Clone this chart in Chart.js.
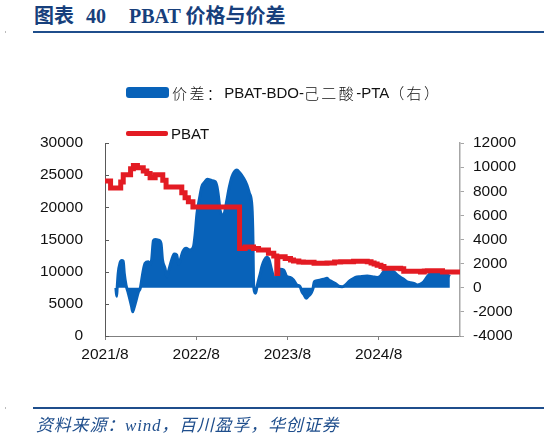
<!DOCTYPE html>
<html>
<head>
<meta charset="utf-8">
<script src="https://cdn.jsdelivr.net/npm/chart.js@4.4.1/dist/chart.umd.min.js"></script>
<style>
  html, body { margin: 0; padding: 0; background: #fff; }
  #wrap { position: relative; width: 547px; height: 439px; overflow: hidden; }
  #chart { position: absolute; left: 0; top: 0; }
  .title { position: absolute; top: 4px; font: bold 20px "Liberation Serif", "Noto Sans CJK SC", serif; color: #173f7c; line-height: 24px; white-space: nowrap; }
  .rule { position: absolute; left: 33px; width: 511px; height: 2px; background: #1f4e8c; }
  .mark { position: absolute; left: 5px; width: 1px; height: 2px; background: #bbb; }
  .source { position: absolute; left: 36px; top: 416px; font: italic 17px "Liberation Serif", "Noto Sans CJK SC", serif; color: #1f4e8c; line-height: 20px; white-space: nowrap; letter-spacing: 0.8px; }
  .legend-item { position: absolute; left: 126px; height: 16px; display: flex; align-items: center; font: 15px "Liberation Sans", "Noto Sans CJK SC", sans-serif; color: #111; white-space: nowrap; }
  .legend-item span.sw { display: inline-block; margin-right: 3px; }
  .legend-item span.cjk { letter-spacing: 2.4px; font-weight: 300; }
</style>
</head>
<body>
<div id="wrap">
  <div class="title" style="left:34px">图表</div>
  <div class="title" style="left:86px">40</div>
  <div class="title" style="left:129px">PBAT 价格与价差</div>
  <div class="rule" style="top:31px"></div>
  <div class="mark" style="top:31px"></div>
  <canvas id="chart" width="547" height="439"></canvas>
  <div id="legend"></div>
  <div class="rule" style="top:407px"></div>
  <div class="mark" style="top:407px"></div>
  <div class="source">资料来源：wind，百川盈孚，华创证券</div>
</div>
<script>
// 价差：PBAT-BDO-己二酸-PTA (right axis)
const spreadDates = [
  '2021-09-14', '2021-09-17', '2021-09-19', '2021-09-23', '2021-09-30', '2021-10-07', '2021-10-13', '2021-10-17',
  '2021-10-24', '2021-11-03', '2021-11-16', '2021-11-20', '2021-11-25', '2021-12-04', '2021-12-13', '2021-12-20',
  '2021-12-31', '2022-01-09', '2022-01-22', '2022-01-29', '2022-02-05', '2022-02-12', '2022-02-19', '2022-03-02',
  '2022-03-12', '2022-03-18', '2022-03-28', '2022-04-05', '2022-04-11', '2022-04-24', '2022-05-04', '2022-05-14',
  '2022-05-21', '2022-05-28', '2022-06-08', '2022-06-21', '2022-07-07', '2022-07-20', '2022-07-27', '2022-08-04',
  '2022-08-14', '2022-08-23', '2022-09-06', '2022-09-15', '2022-10-03', '2022-10-16', '2022-10-23', '2022-10-29',
  '2022-11-05', '2022-11-12', '2022-11-18', '2022-11-25', '2022-12-02', '2022-12-12', '2022-12-22', '2023-01-02',
  '2023-01-11', '2023-01-22', '2023-02-08', '2023-02-21', '2023-03-01', '2023-03-11', '2023-03-15', '2023-03-17',
  '2023-03-21', '2023-03-25', '2023-04-01', '2023-04-07', '2023-04-14', '2023-04-20', '2023-04-30', '2023-05-10',
  '2023-05-19', '2023-05-27', '2023-06-06', '2023-06-13', '2023-06-20', '2023-07-03', '2023-07-16', '2023-07-29',
  '2023-08-12', '2023-08-25', '2023-09-08', '2023-09-21', '2023-09-28', '2023-10-07', '2023-10-15', '2023-10-24',
  '2023-11-04', '2023-11-12', '2023-11-17', '2023-11-28', '2023-12-11', '2023-12-24', '2024-01-07', '2024-01-14',
  '2024-01-27', '2024-02-10', '2024-02-23', '2024-03-07', '2024-03-20', '2024-04-03', '2024-04-16', '2024-04-29',
  '2024-05-19', '2024-06-16', '2024-07-06', '2024-07-25', '2024-08-08', '2024-08-21', '2024-09-05', '2024-09-18',
  '2024-10-01', '2024-10-14', '2024-10-27', '2024-11-10', '2024-11-23', '2024-12-07', '2024-12-20', '2025-01-03',
  '2025-01-16', '2025-01-29', '2025-02-13', '2025-02-26', '2025-03-09', '2025-03-22', '2025-04-05', '2025-04-18',
  '2025-05-02', '2025-05-12'
]
const spreadValues = [
  0, -700, 0, 1200, 2030, 2250, 2200, 1200,
  230, -460, -1570, -1990, -1710, -1020, -325, -50,
  1330, 2020, 2160, 1970, 2300, 3900, 4000, 3950,
  3680, 2300, 1610, 920, 1330, 2300, 2800, 2720,
  1970, 2300, 2990, 3270, 3130, 3400, 4510, 6170,
  7410, 8380, 8800, 8990, 8880, 8800, 8380, 7550,
  6450, 6040, 5960, 6450, 7270, 8380, 9210, 9620,
  9760, 9550, 9070, 8520, 7830, 6720, 3960, 640,
  -325, -460, 90, 640, 1200, 1750, 2300, 2520,
  2300, 1610, 920, 640, 1060, 1530, 1470, 920,
  860, 640, 230, 90, -330, -600, -880, -690,
  -460, -50, 500, 590, 640, 700, 780, 640,
  500, 360, 140, 90, 230, 500, 700, 860,
  920, 970, 920, 860, 970, 1330, 1470, 1420,
  1330, 1060, 860, 700, 500, 420, 360, 230,
  310, 500, 920, 1200, 1260, 1260, 1200, 1140,
  1060, 920
]

// PBAT price (left axis), each value holds from its date until the next one
const pbatDates = [
  '2021-08-01', '2021-08-23', '2021-10-03', '2021-10-13', '2021-11-12', '2021-11-23', '2021-12-09', '2022-01-02',
  '2022-01-16', '2022-01-29', '2022-02-19', '2022-03-19', '2022-04-02', '2022-06-04', '2022-06-17', '2022-06-30',
  '2022-07-18', '2023-01-22', '2023-02-14', '2023-03-17', '2023-04-07', '2023-05-16', '2023-06-07', '2023-06-19',
  '2023-06-23', '2023-07-22', '2023-08-13', '2023-08-25', '2023-09-16', '2023-10-04', '2023-11-16', '2024-01-07',
  '2024-02-07', '2024-03-01', '2024-04-22', '2024-06-16', '2024-07-01', '2024-07-13', '2024-07-25', '2024-08-10',
  '2024-08-22', '2024-10-28', '2024-11-10', '2025-01-16', '2025-02-01', '2025-02-13', '2025-03-22', '2025-04-13',
  '2025-06-22'
]
const pbatValues = [
  24100, 23000, 23950, 25050, 26000, 26500, 26150, 25650,
  25250, 24600, 25050, 24200, 23150, 22250, 21500, 20850,
  20050, 13600, 13850, 13600, 13350, 12850, 12450, 9700,
  12300, 12050, 11800, 11650, 11500, 11450, 11300, 11350,
  11500, 11550, 11600, 11550, 11350, 11200, 11000, 10800,
  10550, 10450, 10050, 9950, 10100, 10150, 10150, 9950,
  9950
]

const xTickMonths = [0, 12, 24, 36]
const xTickLabels = ['2021/8', '2022/8', '2023/8', '2024/8']
const xMax = 46.7

const spreadLabel = '价差：PBAT-BDO-己二酸-PTA（右）'
const pbatLabel = 'PBAT'
const blue = '#0862b9'
const red = '#e31b23'

// months elapsed since 2021/8
function toMonths(s) {
  const [y, m, d] = s.split('-').map(Number)
  return (y - 2021) * 12 + (m - 8) + (d - 1) / 30
}

const tickFont = { family: '"Liberation Sans", Arial, sans-serif', size: 15.5 }
const plain = (v) => String(v)

// left axis has its tick marks pointing into the plot
const innerTicks = {
  id: 'innerTicks',
  afterDraw(chart) {
    const s = chart.scales.y
    const ctx = chart.ctx
    ctx.save()
    ctx.strokeStyle = '#595959'
    ctx.lineWidth = 1
    s.ticks.forEach(t => {
      const py = Math.round(s.getPixelForValue(t.value)) + 0.5
      ctx.beginPath()
      ctx.moveTo(s.right, py)
      ctx.lineTo(s.right + 4, py)
      ctx.stroke()
    })
    ctx.restore()
  }
}

const chart = new Chart(document.getElementById('chart'), {
  type: 'line',
  data: {
    datasets: [
      {
        label: pbatLabel,
        data: pbatDates.map((d, i) => ({ x: toMonths(d), y: pbatValues[i] })),
        borderColor: red,
        borderWidth: 5,
        stepped: true,
        pointRadius: 0,
        fill: false,
        yAxisID: 'y',
        order: 0
      },
      {
        label: spreadLabel,
        data: spreadDates.map((d, i) => ({ x: toMonths(d), y: spreadValues[i] })),
        borderColor: blue,
        backgroundColor: blue,
        borderWidth: 3,
        cubicInterpolationMode: 'monotone',
        pointRadius: 0,
        fill: 'origin',
        yAxisID: 'y1',
        order: 1
      }
    ]
  },
  options: {
    responsive: false,
    animation: false,
    layout: { padding: { top: 143, left: 0, right: 0, bottom: 0 } },
    plugins: {
      legend: { display: false },
      tooltip: { enabled: false }
    },
    scales: {
      x: {
        type: 'linear',
        min: 0,
        max: xMax,
        afterBuildTicks: (s) => { s.ticks = xTickMonths.map(v => ({ value: v })) },
        afterFit: (s) => { s.height = 103 },
        grid: { display: true, drawOnChartArea: false, drawTicks: true, tickLength: 4, tickColor: '#7f7f7f' },
        border: { display: true, color: '#7f7f7f', width: 1 },
        ticks: {
          color: '#111',
          font: tickFont,
          padding: 5,
          maxRotation: 0,
          callback: (v) => xTickLabels[xTickMonths.indexOf(v)]
        }
      },
      y: {
        position: 'left',
        min: 0,
        max: 30000,
        afterFit: (s) => { s.width = 105 },
        grid: { display: false },
        border: { display: true, color: '#595959', width: 1 },
        ticks: { stepSize: 5000, color: '#111', font: tickFont, padding: 14, callback: plain }
      },
      y1: {
        position: 'right',
        min: -4000,
        max: 12000,
        afterFit: (s) => { s.width = 87 },
        grid: { display: true, drawOnChartArea: false, drawTicks: true, tickLength: 4, tickColor: '#a6a6a6' },
        border: { display: true, color: '#a6a6a6', width: 1.5 },
        ticks: { stepSize: 2000, color: '#111', font: tickFont, padding: 9, callback: plain }
      }
    }
  },
  plugins: [innerTicks]
})

// legend, stacked in two rows like the source
const legendEl = document.getElementById('legend')
const legendRows = [
  { ds: chart.data.datasets[1], top: 84, swatch: 'width:43px;height:11px;border-radius:3px;' },
  { ds: chart.data.datasets[0], top: 125, swatch: 'width:42px;height:5px;border-radius:2px;' }
]
legendRows.forEach(r => {
  const item = document.createElement('div')
  item.className = 'legend-item'
  item.style.top = r.top + 'px'
  const text = r.ds.label.replace(/([\u3000-\u9fff\uff00-\uffef]+)/g, '<span class="cjk">$1</span>')
  item.innerHTML = '<span class="sw" style="' + r.swatch + 'background:' + r.ds.borderColor + '"></span>' + text
  legendEl.appendChild(item)
})
</script>
</body>
</html>
